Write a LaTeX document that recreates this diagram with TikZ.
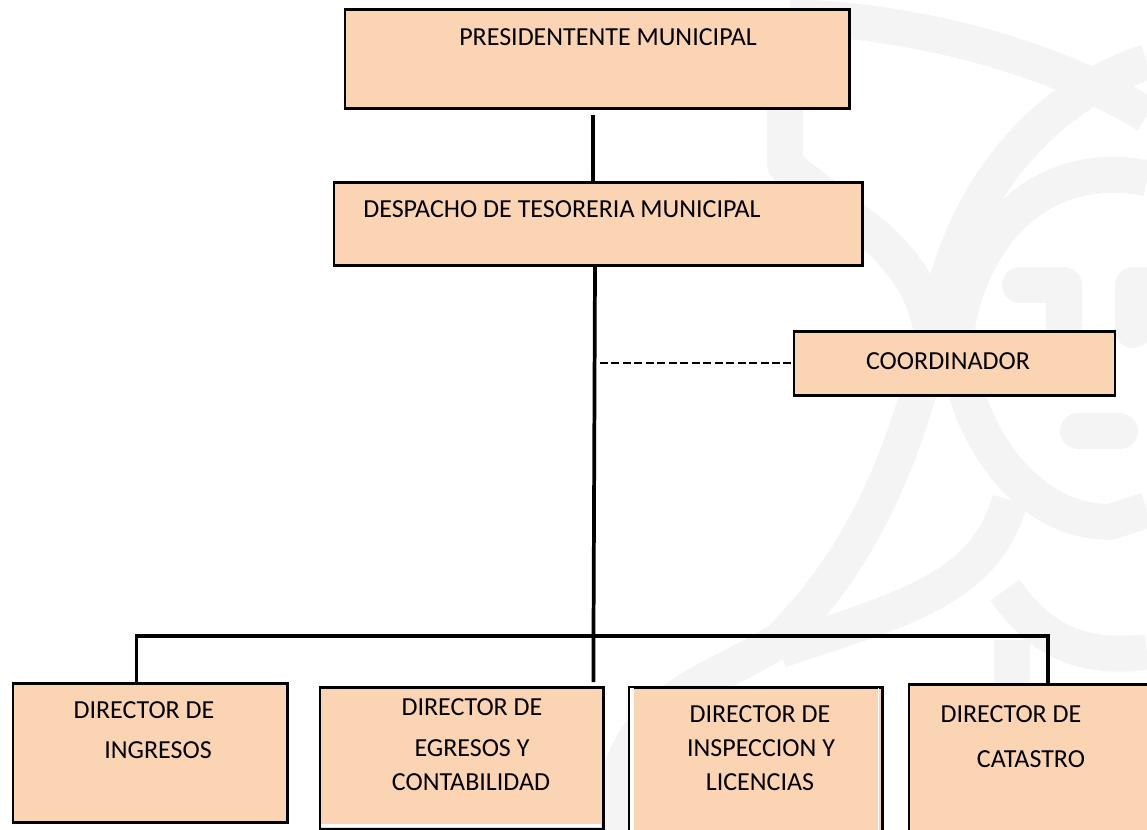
\documentclass[tikz,border=0pt]{standalone}
\usepackage{fontspec}
\setmainfont{Carlito}
\definecolor{boxfill}{HTML}{FBD4B4}
\definecolor{wm}{HTML}{F4F4F4}
\tikzset{
  x=0.75pt,y=-0.75pt,
  orgbox/.style={draw=black,line width=2.1pt,fill=boxfill,inner sep=0pt,anchor=north west},
  lbl/.style={font=\fontsize{19.5pt}{23pt}\selectfont,text=black,inner sep=0pt,anchor=center},
  trunk/.style={draw=black,line width=2.8pt},
  wmark/.style={draw=wm,line width=27pt,line join=round},
  wblob/.style={draw=wm,line width=27pt,line join=round,line cap=round},
}
\begin{document}
\begin{tikzpicture}
\useasboundingbox (0,0) rectangle (1147,830);
% watermark
\draw[wmark] (790,17) .. controls (900,20) and (1040,50) .. (1147,115);
\draw[wmark] (1147,62) .. controls (1060,90) and (975,170) .. (945,290) .. controls (915,420) and (880,540) .. (780,640) .. controls (700,690) and (615,700) .. (612,830);
\draw[wmark] (785,95) -- (785,165) -- (880,240) .. controls (920,280) and (925,300) .. (935,345);
\draw[wmark] (1147,178) .. controls (1050,160) and (980,220) .. (958,320) .. controls (950,400) and (1010,522) .. (1110,522) -- (1147,510);
\draw[wmark] (1010,500) .. controls (985,590) and (900,610) .. (780,650);
\draw[wmark] (1005,590) .. controls (1040,640) and (1080,660) .. (1147,652);
\draw[wmark] (1012,640) -- (1012,700);
\draw[wblob] (1020,285) -- (1064,285) -- (1064,325);
\draw[wblob] (1147,285) -- (1133,285) -- (1133,330);
\draw[wblob] (1078,431) -- (1120,431);

\node[orgbox,minimum width=504.5*0.75pt,minimum height=99*0.75pt] (pres) at (343.5,8.5) {};
\node[orgbox,line width=1.9pt,minimum width=528.5*0.75pt,minimum height=83*0.75pt] (desp) at (332.5,181) {};
\node[orgbox,minimum width=321*0.75pt,minimum height=64*0.75pt] (coord) at (792.5,330) {};
\node[orgbox,minimum width=274.5*0.75pt,minimum height=139*0.75pt] (ing) at (11.5,682) {};
\node[orgbox,minimum width=283.5*0.75pt,minimum height=142*0.75pt] (egr) at (318.5,686) {};
\node[orgbox,line width=2.4pt,minimum width=253.5*0.75pt,minimum height=150*0.75pt] (insp) at (627.5,686) {};
\node[orgbox,minimum width=260*0.75pt,minimum height=160*0.75pt] (cat) at (907.5,683) {};
% white strips left by the pasted-in boxes
\fill[white] (320.5,824) rectangle (601,826.8);
\fill[white] (630,688) rectangle (633.5,830);
\fill[white] (878,688) rectangle (879.2,830);

\node[lbl] (t1) at (608,37) {PRESIDENTENTE MUNICIPAL};
\node[lbl] (t2) at (562,209) {DESPACHO DE TESORERIA MUNICIPAL};
\node[lbl] (t3) at (948,361) {COORDINADOR};
\node[lbl] (t4) at (144,710) {DIRECTOR DE};
\node[lbl] (t5) at (158,750) {INGRESOS};
\node[lbl] (t6) at (472,707) {DIRECTOR DE};
\node[lbl] (t7) at (472,748) {EGRESOS Y};
\node[lbl] (t8) at (471,782) {CONTABILIDAD};
\node[lbl] (t9) at (760,714) {DIRECTOR DE};
\node[lbl] (t10) at (761,748) {INSPECCION Y};
\node[lbl] (t11) at (760,782) {LICENCIAS};
\node[lbl] (t12) at (1011,714) {DIRECTOR DE};
\node[lbl] (t13) at (1031,759) {CATASTRO};

\coordinate (a1) at (593,115);
\coordinate (b1) at (595,265);
\coordinate (b2) at (593.5,636);
\coordinate (b3) at (593.5,682);
\coordinate (h1) at (136.5,636);
\coordinate (h2) at (1048,636);
\coordinate (d1) at (600,363.5);
\draw[trunk,line width=3pt] (a1) -- (desp.north -| a1);
\draw[trunk] (desp.south -| b1) -- (b2) -- (b3);
\draw[trunk] (ing.north -| h1) -- (h1) -- (h2) -- (cat.north -| h2);
\draw[black,line width=1.5pt,dash pattern=on 6pt off 2.6pt] (d1) -- (coord.west |- d1);
\end{tikzpicture}
\end{document}
